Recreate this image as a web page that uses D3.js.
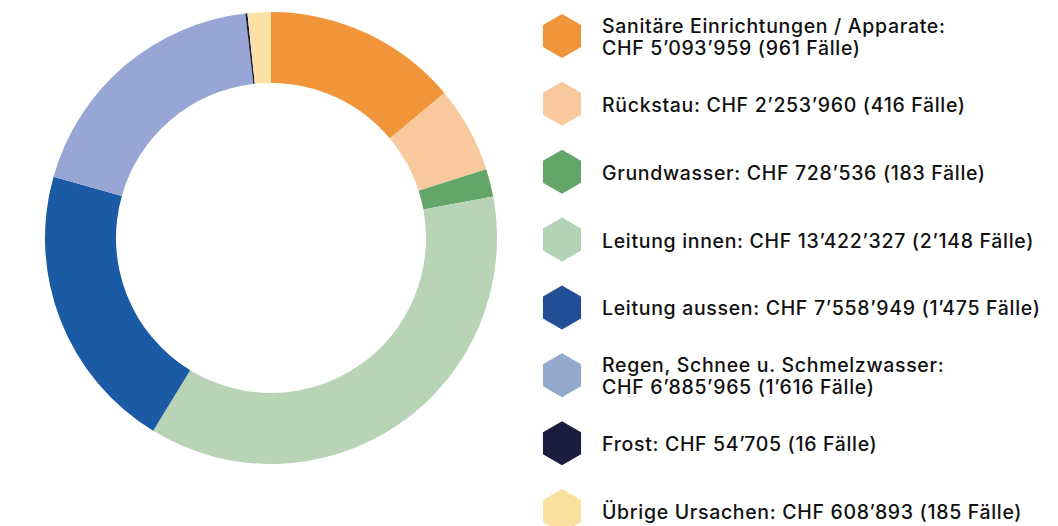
<!DOCTYPE html>
<html><head><meta charset="utf-8">
<script src="https://cdn.jsdelivr.net/npm/d3@7"></script>
<style>body{margin:0;background:#fff}svg{display:block}</style>
</head><body>
<svg id="c" width="1058" height="526"></svg>
<script>
const categories = ["Sanitäre Einrichtungen / Apparate", "Rückstau", "Grundwasser", "Leitung innen", "Leitung aussen", "Regen, Schnee u. Schmelzwasser", "Frost", "Übrige Ursachen"];
const amounts = [5093959, 2253960, 728536, 13422327, 7558949, 6885965, 54705, 608893];
const cases = [961, 416, 183, 2148, 1475, 1616, 16, 185];
const sliceColors = ["#F0953A", "#F7C99C", "#63A66A", "#B8D3B5", "#1B5AA5", "#97A6D4", "#1A1D3D", "#FBE1A6"];
const legendColors = ["#F0953A", "#F7C99C", "#63A66A", "#B2D3B5", "#224E96", "#93A9CD", "#1A1D3D", "#F9E09E"];
const twoLine = [true, false, false, false, false, true, false, false];

const fmt = n => String(n).replace(/\B(?=(\d{3})+(?!\d))/g, "’");
const svg = d3.select("#c");
const cx = 271, cy = 238, R = 226, r = 155;
const pie = d3.pie().sort(null).value(d => d)(amounts);
const arc = d3.arc().innerRadius(r).outerRadius(R);
svg.append("g").attr("transform", `translate(${cx},${cy})`)
  .selectAll("path").data(pie).join("path")
  .attr("d", arc).attr("fill", (d, i) => sliceColors[i]);

const hex = d3.range(6).map(k => {
  const a = Math.PI / 3 * k;
  return [22 * Math.sin(a), -22 * Math.cos(a)];
});
const rowY = d3.scalePoint().domain(d3.range(categories.length)).range([36, 511]);
const lg = svg.append("g");
const texts = [];
categories.forEach((c, i) => {
  const y = rowY(i);
  lg.append("polygon").attr("points", hex.map(p => [562 + p[0], y + p[1]].join(",")).join(" "))
    .attr("fill", legendColors[i]);
  const tail = `CHF ${fmt(amounts[i])} (${fmt(cases[i])} Fälle)`;
  const t = lg.append("text").attr("x", 602).attr("font-family", "Inter, sans-serif")
    .attr("font-size", 19.5).attr("font-weight", 500).attr("fill", "#111");
  if (twoLine[i]) {
    t.append("tspan").attr("x", 602).attr("y", y - 3).text(c + ":");
    t.append("tspan").attr("x", 602).attr("y", y + 19).text(tail);
  } else {
    t.attr("y", y + 8).text(c + ": " + tail);
  }
  texts.push(t);
});
// adjust letter spacing so the longest line matches the reference width (~432px)
const ref = texts[3].node();
const w = ref.getComputedTextLength();
const n = ref.textContent.length;
const ls = (432 - w) / n;
texts.forEach(t => t.attr("letter-spacing", ls));
</script>
</body></html>
